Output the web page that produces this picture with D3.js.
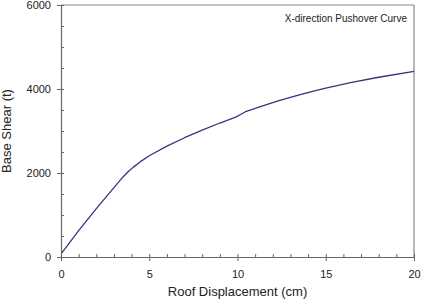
<!DOCTYPE html>
<html>
<head>
<meta charset="utf-8">
<script src="https://cdn.jsdelivr.net/npm/d3@7"></script>
<style>
body { margin: 0; background: #fff; }
text { font-family: "Liberation Sans", Arial, sans-serif; fill: #222; }
</style>
</head>
<body>
<div id="chart"></div>
<script>
// pushover curve
var displacement = [0.05, 1.0, 2.0, 3.0, 3.5, 3.8, 4.1, 4.5, 5.0, 6.0, 7.0, 8.0, 9.0, 9.9, 10.2, 10.5, 11.3, 12.3, 13.5, 14.2, 15.0, 16.4, 18.0, 20.0];
var baseShear = [100, 630, 1150, 1650, 1900, 2030, 2140, 2270, 2410, 2640, 2840, 3020, 3190, 3330, 3400, 3470, 3580, 3720, 3860, 3940, 4020, 4150, 4280, 4420];
var xTicks = [0, 5, 10, 15, 20];
var yTicks = [0, 2000, 4000, 6000];

var margin = {top: 5, right: 8, bottom: 43, left: 61},
  width = 422 - margin.left - margin.right,
  height = 300 - margin.top - margin.bottom;

var svg = d3.select("#chart")
  .append("svg")
    .attr("width", 422)
    .attr("height", 300)
  .append("g")
    .attr("transform", "translate(" + margin.left + "," + margin.top + ")");

var x = d3.scaleLinear().domain([0, 20]).range([0, width]);
var y = d3.scaleLinear().domain([0, 6000]).range([height, 0]);

var axisColor = "#666";

// frame (top + right)
svg.append("line").attr("x1", 0).attr("x2", width).attr("y1", 0).attr("y2", 0)
  .attr("stroke", "#888").attr("stroke-width", 1.2);
svg.append("line").attr("x1", width).attr("x2", width).attr("y1", 0).attr("y2", height)
  .attr("stroke", "#888").attr("stroke-width", 1.2);

// minor ticks, pointing inward
svg.append("g")
  .attr("transform", "translate(0," + height + ")")
  .call(d3.axisBottom(x).tickValues(d3.range(0, 21, 1)).tickSize(-3).tickFormat(""))
  .call(function(g) { g.select(".domain").remove(); g.selectAll("line").attr("stroke", axisColor); });
svg.append("g")
  .call(d3.axisLeft(y).tickValues(d3.range(0, 6001, 500)).tickSize(-3).tickFormat(""))
  .call(function(g) { g.select(".domain").remove(); g.selectAll("line").attr("stroke", axisColor); });

// major axes
var xAxis = svg.append("g")
  .attr("transform", "translate(0," + height + ")")
  .call(d3.axisBottom(x).tickValues(xTicks).tickFormat(d3.format("d"))
    .tickSizeInner(4).tickSizeOuter(0).tickPadding(9));
var yAxis = svg.append("g")
  .call(d3.axisLeft(y).tickValues(yTicks).tickFormat(d3.format("d"))
    .tickSizeInner(4).tickSizeOuter(0).tickPadding(6));

[xAxis, yAxis].forEach(function(a) {
  a.select(".domain").attr("stroke", axisColor).attr("stroke-width", 1.2);
  a.selectAll("line").attr("stroke", axisColor);
  a.selectAll("text").style("font-size", "11px").style("font-family", "Liberation Sans, Arial, sans-serif").attr("fill", "#222");
});

// the curve
var pts = displacement.map(function(d, i) { return [d, baseShear[i]]; });
svg.append("path")
  .datum(pts)
  .attr("fill", "none")
  .attr("stroke", "#35357f")
  .attr("stroke-width", 1.3)
  .attr("stroke-linejoin", "round")
  .attr("d", d3.line()
    .x(function(d) { return x(d[0]); })
    .y(function(d) { return y(d[1]); }));

// labels
svg.append("text")
  .attr("x", width / 2).attr("y", height + 39)
  .attr("text-anchor", "middle")
  .style("font-size", "13px")
  .text("Roof Displacement (cm)");

svg.append("text")
  .attr("transform", "translate(" + (-50) + "," + (height / 2) + ") rotate(-90)")
  .attr("text-anchor", "middle")
  .style("font-size", "13px")
  .text("Base Shear (t)");

svg.append("text")
  .attr("x", width - 7).attr("y", 17)
  .attr("text-anchor", "end")
  .style("font-size", "10px")
  .text("X-direction Pushover Curve");
</script>
</body>
</html>
